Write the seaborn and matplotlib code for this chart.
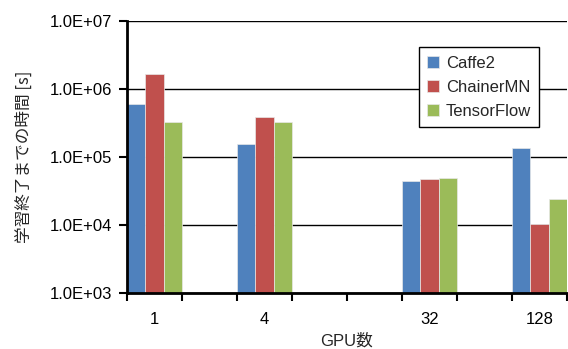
import numpy as np
import pandas as pd
import matplotlib
matplotlib.use("Agg")
import matplotlib.pyplot as plt
import seaborn as sns
from matplotlib.ticker import FixedLocator, FuncFormatter, NullLocator

# GPU counts (slots on the x axis; only some carry data)
gpus = ['1', '2', '4', '8', '16', '32', '64', '128']
shown = ['1', '4', '32', '128']
frameworks = ['Caffe2', 'ChainerMN', 'TensorFlow']
caffe2 = [6.0e5, 1.55e5, 4.4e4, 1.35e5]
chainermn = [1.63e6, 3.9e5, 4.7e4, 1.03e4]
tensorflow = [3.3e5, 3.27e5, 4.8e4, 2.36e4]
colors = ['#4F81BD', '#C0504D', '#9BBB59']

df = pd.DataFrame({
    'GPU': shown * 3,
    'fw': [f for f in frameworks for _ in shown],
    'time': caffe2 + chainermn + tensorflow,
})

sns.set_style('white')
plt.rcParams['font.family'] = ['Liberation Sans', 'Noto Sans CJK JP']
plt.rcParams['xtick.bottom'] = True
plt.rcParams['ytick.left'] = True
plt.rcParams['xtick.major.size'] = 6
plt.rcParams['ytick.major.size'] = 6
plt.rcParams['xtick.major.width'] = 1.5
plt.rcParams['ytick.major.width'] = 1.5
plt.rcParams['xtick.color'] = 'black'
plt.rcParams['ytick.color'] = 'black'

fig = plt.figure(figsize=(5.68, 3.49), dpi=100)
ax = fig.add_axes([0.2236, 0.1613, 0.7746, 0.7787])
ax.set_yscale('log')
sns.barplot(data=df, x='GPU', y='time', hue='fw', order=gpus, hue_order=frameworks,
            palette=colors, saturation=1, width=1.0, ax=ax, linewidth=0.5,
            edgecolor='#e8e8e8', zorder=3)

ax.set_ylim(1e3, 1e7)
ax.set_xlim(-0.5, 7.5)
ax.yaxis.set_major_locator(FixedLocator([1e3, 1e4, 1e5, 1e6, 1e7]))
ax.yaxis.set_minor_locator(NullLocator())
ax.yaxis.set_major_formatter(FuncFormatter(lambda v, p: '1.0E+%02d' % round(np.log10(v))))
ax.grid(axis='y', color='black', linewidth=1.0, zorder=0)
ax.grid(axis='x', visible=False)

# tick marks at slot boundaries, labels at slot centres
ax.set_xticks(np.arange(-0.5, 8.0, 1.0), labels=[''] * 9)
ax.set_xticks(range(len(gpus)), labels=[g if g in shown else '' for g in gpus], minor=True)
ax.tick_params(axis='x', which='major', length=6, width=1.5, color='black',
               direction='out', bottom=True)
ax.tick_params(axis='x', which='minor', length=0, labelsize=12, pad=14, bottom=True)
ax.tick_params(axis='y', which='major', length=6, width=1.5, color='black',
               direction='out', labelsize=12, pad=5, left=True)
ax.set_axisbelow(False)

for s in ['top', 'right']:
    ax.spines[s].set_visible(False)
for s in ['left', 'bottom']:
    ax.spines[s].set_color('black')
    ax.spines[s].set_linewidth(2.0)
    ax.spines[s].set_zorder(4)

ax.set_ylabel('学習終了までの時間 [s]', fontsize=12, family=['Noto Sans CJK JP', 'Liberation Sans'], labelpad=12)
ax.set_xlabel('GPU数', fontsize=12, family=['Liberation Sans', 'Noto Sans CJK JP'], labelpad=4)

handles, labels = ax.get_legend_handles_labels()
leg = ax.legend(handles, labels, loc='upper left', bbox_to_anchor=(0.645, 0.934),
                fontsize=12, frameon=True, fancybox=False, framealpha=1,
                edgecolor='black', handlelength=0.7, handleheight=0.7,
                handletextpad=0.4, labelspacing=0.55, borderpad=0.5)
leg.get_frame().set_linewidth(1.0)
leg.set_zorder(5)

fig.savefig('out.png', dpi=100)
